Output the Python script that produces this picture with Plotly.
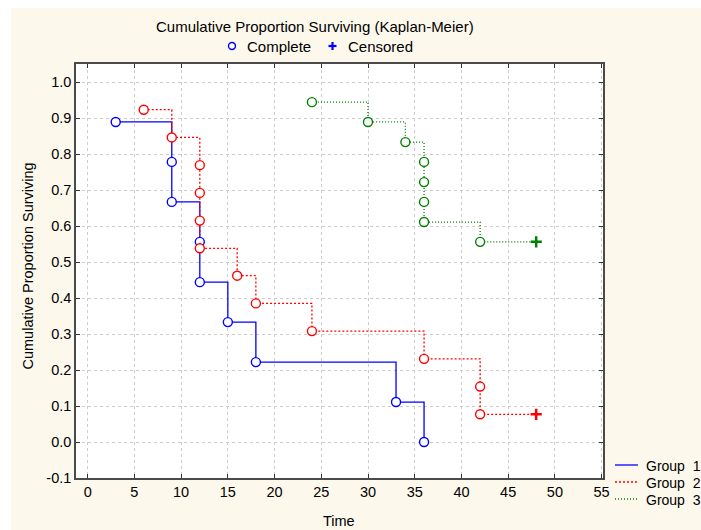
import plotly.graph_objects as go

# Kaplan-Meier estimates per group: event times and survival proportions
g1_time = [3, 9, 9, 12, 12, 15, 18, 33, 36]
g1_surv = [0.889, 0.778, 0.667, 0.556, 0.444, 0.333, 0.222, 0.111, 0.0]
g1_cens_time = []
g1_cens_surv = []

g2_time = [6, 9, 12, 12, 12, 12, 16, 18, 24, 36, 42, 42]
g2_surv = [0.923, 0.846, 0.769, 0.692, 0.615, 0.538, 0.462, 0.385, 0.308, 0.231, 0.154, 0.077]
g2_cens_time = [48]
g2_cens_surv = [0.077]

g3_time = [24, 30, 34, 36, 36, 36, 36, 42]
g3_surv = [0.944, 0.889, 0.833, 0.778, 0.722, 0.667, 0.611, 0.556]
g3_cens_time = [48]
g3_cens_surv = [0.556]

group_names = ["Group\u00a0\u00a01", "Group\u00a0\u00a02", "Group\u00a0\u00a03"]
x_ticks = list(range(0, 60, 5))
y_ticks = [-0.1, 0.0, 0.1, 0.2, 0.3, 0.4, 0.5, 0.6, 0.7, 0.8, 0.9, 1.0]

W, H = 701, 530
L, R, T, B = 76, 603, 64, 478
FONT = "Liberation Sans, Arial, sans-serif"
CREAM = "#FDF8EC"

groups = [
    (g1_time, g1_surv, g1_cens_time, g1_cens_surv, "#0000FF", "solid"),
    (g2_time, g2_surv, g2_cens_time, g2_cens_surv, "#FF0000", "2px,2px"),
    (g3_time, g3_surv, g3_cens_time, g3_cens_surv, "#008000", "1px,2px"),
]

fig = go.Figure()
for t, s, ct, cs, color, dash in groups:
    fig.add_trace(go.Scatter(
        x=t + ct, y=s + cs, mode="lines", line_shape="hv",
        line=dict(color=color, width=1.3, dash=dash),
        hoverinfo="skip", showlegend=False))
for t, s, ct, cs, color, dash in groups:
    fig.add_trace(go.Scatter(
        x=t, y=s, mode="markers",
        marker=dict(symbol="circle", size=9, color="white",
                    line=dict(color=color, width=1.4)),
        showlegend=False))
    if ct:
        fig.add_trace(go.Scatter(
            x=ct, y=cs, mode="markers",
            marker=dict(symbol="cross-thin", size=8,
                        line=dict(color=color, width=2.5)),
            showlegend=False))


def px(xp):
    return (xp - L) / (R - L)


def py(yp):
    return (B - yp) / (B - T)


shapes = [
    # cream backdrop of the chart panel
    dict(type="rect", xref="paper", yref="paper", x0=px(11), x1=px(W + 5),
         y0=py(H + 5), y1=py(8), fillcolor=CREAM, line=dict(width=0),
         layer="below"),
    dict(type="rect", xref="paper", yref="paper", x0=0, x1=1, y0=0, y1=1,
         fillcolor="white", line=dict(width=0), layer="below"),
    # marker key under the title
    dict(type="circle", xref="paper", yref="paper",
         x0=px(228.5), x1=px(235.5), y0=py(42.5), y1=py(49.5),
         line=dict(color="#0000FF", width=1.4), fillcolor="white"),
    dict(type="line", xref="paper", yref="paper",
         x0=px(328.5), x1=px(336.5), y0=py(46), y1=py(46),
         line=dict(color="#0000FF", width=2.2)),
    dict(type="line", xref="paper", yref="paper",
         x0=px(332.5), x1=px(332.5), y0=py(42), y1=py(50),
         line=dict(color="#0000FF", width=2.2)),
]

annotations = [
    dict(text="Cumulative Proportion Surviving (Kaplan-Meier)", x=px(315), y=py(26),
         xref="paper", yref="paper", showarrow=False, xanchor="center", yanchor="middle",
         font=dict(family=FONT, size=15, color="black")),
    dict(text="Complete", x=px(245), y=py(46), xref="paper", yref="paper",
         showarrow=False, xanchor="left", yanchor="middle",
         font=dict(family=FONT, size=15, color="black")),
    dict(text="Censored", x=px(346), y=py(46), xref="paper", yref="paper",
         showarrow=False, xanchor="left", yanchor="middle",
         font=dict(family=FONT, size=15, color="black")),
    dict(text="Time", x=px(339), y=py(521), xref="paper", yref="paper",
         showarrow=False, xanchor="center", yanchor="middle",
         font=dict(family=FONT, size=14.5, color="black")),
    dict(text="Cumulative Proportion Surviving", x=px(27.5), y=py(266),
         xref="paper", yref="paper", showarrow=False, textangle=-90,
         xanchor="center", yanchor="middle",
         font=dict(family=FONT, size=14.5, color="black")),
]

# group key at the lower right
key_rows = [465, 482, 499]
for (t, s, ct, cs, color, dash), name, yy in zip(groups, group_names, key_rows):
    shapes.append(dict(type="line", xref="paper", yref="paper",
                       x0=px(615), x1=px(638), y0=py(yy), y1=py(yy),
                       line=dict(color=color, width=1.3, dash=dash)))
    annotations.append(dict(text=name, x=px(644), y=py(yy + 1), xref="paper", yref="paper",
                            showarrow=False, xanchor="left", yanchor="middle",
                            font=dict(family=FONT, size=14, color="black")))

axis_common = dict(
    showgrid=True, gridcolor="#CCCCCC", griddash="dot", gridwidth=1,
    zeroline=False, showline=True, linecolor="#4A4A4A", linewidth=1.5,
    mirror="ticks", ticks="inside", ticklen=4, tickcolor="#333333", tickwidth=1,
    tickfont=dict(family=FONT, size=14.5, color="black"),
)

fig.update_layout(
    width=W, height=H,
    margin=dict(l=L, r=W - R, t=T, b=H - B),
    paper_bgcolor="white", plot_bgcolor="white",
    shapes=shapes, annotations=annotations, showlegend=False,
    xaxis=dict(range=[-1.25, 55.15], tickvals=x_ticks, ticktext=[str(v) for v in x_ticks],
               **axis_common),
    yaxis=dict(range=[-0.1, 1.05], tickvals=y_ticks,
               ticktext=[f"{v:.1f}" for v in y_ticks], **axis_common),
)

fig.write_html("out.html")
